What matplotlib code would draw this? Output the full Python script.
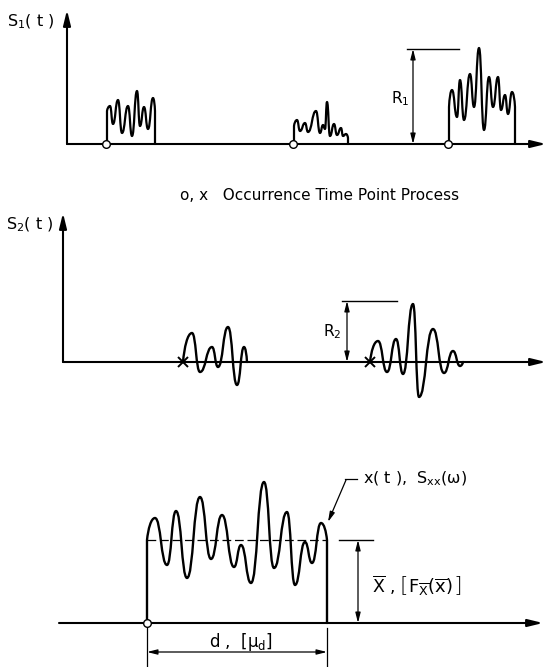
import matplotlib.pyplot as plt
from matplotlib.path import Path
from matplotlib.patches import PathPatch

plt.rcParams['font.family'] = ['DejaVu Sans']
plt.rcParams['mathtext.fontset'] = 'dejavusans'
plt.rcParams['mathtext.default'] = 'regular'

# ---- panel 1: S1(t), bursts given as (time, amplitude) of edges and extrema
s1_onsets = [106, 293, 448]
burst_a_t = [107, 110, 113, 118, 122, 128, 132, 137, 140, 144, 148, 153, 155]
burst_a_amp = [33, 38, 20, 44, 11, 38, 8, 53, 18, 37, 15, 46, 33]
burst_b_t = [294, 297, 300, 305, 308, 316, 320, 323, 325, 327, 330, 334, 337, 341, 343, 346, 348]
burst_b_amp = [18, 24, 13, 21, 12, 33, 11, 19, 15, 42, 8, 20, 9, 16, 8, 10, 6]
burst_c_t = [449, 452, 457, 460, 464, 470, 474, 479, 484, 489, 493, 498, 501, 505, 508, 512, 515]
burst_c_amp = [37, 54, 27, 64, 24, 70, 37, 96, 14, 67, 37, 67, 34, 49, 30, 52, 37]
r1_level = 95

# ---- panel 2: S2(t)
s2_onsets = [183, 370]
burst_d_t = [183, 192, 200, 212, 218, 228, 237, 244, 247]
burst_d_amp = [0, 29, -10, 15, -5, 35, -23, 15, 0]
burst_e_t = [370, 378, 387, 396, 403, 413, 419, 433, 444, 453, 460, 463]
burst_e_amp = [0, 21, -10, 23, -12, 58, -35, 33, -11, 11, -4, 0]
r2_level = 61

# ---- panel 3: single pulse x(t)
pulse_onset = 147
pulse_end = 327
pulse_t = [147, 155, 167, 176, 187, 200, 211, 222, 234, 241, 251, 264, 274, 287, 295, 305, 312, 321, 327]
pulse_amp = [83, 105, 58, 112, 45, 126, 64, 108, 56, 78, 40, 141, 55, 111, 38, 81, 60, 100, 83]
mean_level = 83


def wave_path(t, amp):
    verts = [(t[0], 0)]
    codes = [Path.MOVETO]
    if amp[0] != 0:
        verts.append((t[0], amp[0]))
        codes.append(Path.LINETO)
    n = len(t)
    for i in range(n - 1):
        x0, y0, x1, y1 = t[i], amp[i], t[i + 1], amp[i + 1]
        dx = x1 - x0
        c1 = (x0 + 0.5 * dx, y0)
        c2 = (x1 - 0.5 * dx, y1)
        if i == 0:
            c1 = (x0 + 0.15 * dx, y0 + 0.5 * (y1 - y0))
        if i == n - 2:
            c2 = (x1 - 0.15 * dx, y1 - 0.5 * (y1 - y0))
        verts += [c1, c2, (x1, y1)]
        codes += [Path.CURVE4] * 3
    if amp[-1] != 0:
        verts.append((t[-1], 0))
        codes.append(Path.LINETO)
    return Path(verts, codes)


def draw_wave(ax, t, amp, lw=1.7):
    ax.add_patch(PathPatch(wave_path(t, amp), fill=False, lw=lw, color='k',
                           capstyle='round', joinstyle='round', clip_on=False))


def arrow(ax, start, end, lw=1.5, style='-|>,head_length=0.9,head_width=0.22'):
    ax.annotate('', xy=end, xytext=start,
                arrowprops=dict(arrowstyle=style, lw=lw, color='k',
                                shrinkA=0, shrinkB=0), annotation_clip=False)


def dim_arrow(ax, start, end):
    arrow(ax, start, end, lw=0.9, style='<|-|>,head_length=0.6,head_width=0.15')


fig = plt.figure(figsize=(5.48, 6.67), dpi=100)

# panel 1
ax1 = fig.add_axes([0, 1 - 165 / 667, 1, 165 / 667])
ax1.set_xlim(0, 548)
ax1.set_ylim(-21, 144)
ax1.axis('off')
arrow(ax1, (67, 0), (67, 134))
arrow(ax1, (67, 0), (546, 0))
for t, a in [(burst_a_t, burst_a_amp), (burst_b_t, burst_b_amp), (burst_c_t, burst_c_amp)]:
    draw_wave(ax1, t, a, lw=1.6)
ax1.plot(s1_onsets, [0] * len(s1_onsets), 'o', ms=5.5, mfc='white', mec='k', mew=1.0,
         clip_on=False, zorder=5)
ax1.plot([407, 459], [r1_level, r1_level], color='k', lw=1.0)
dim_arrow(ax1, (413, 0), (413, r1_level))
ax1.text(400, 45, r'R$_1$', fontsize=11, ha='center', va='center')
ax1.text(31, 122, r'S$_1$( t )', fontsize=11.5, ha='center', va='center')

fig.text(180 / 548, 1 - 196 / 667, 'o, x   Occurrence Time Point Process',
         fontsize=11, ha='left', va='center')

# panel 2
ax2 = fig.add_axes([0, 1 - 420 / 667, 1, 255 / 667])
ax2.set_xlim(0, 548)
ax2.set_ylim(-58, 197)
ax2.axis('off')
arrow(ax2, (63, 0), (63, 149))
arrow(ax2, (63, 0), (546, 0))
draw_wave(ax2, burst_d_t, burst_d_amp)
draw_wave(ax2, burst_e_t, burst_e_amp)
ax2.plot(s2_onsets, [0] * len(s2_onsets), 'x', ms=7, mec='k', mew=1.4, clip_on=False, zorder=5)
ax2.plot([342, 397], [r2_level, r2_level], color='k', lw=1.0)
dim_arrow(ax2, (347, 0), (347, r2_level))
ax2.text(332, 30, r'R$_2$', fontsize=11, ha='center', va='center')
ax2.text(30, 137, r'S$_2$( t )', fontsize=11.5, ha='center', va='center')

# panel 3
ax3 = fig.add_axes([0, 0, 1, 247 / 667])
ax3.set_xlim(0, 548)
ax3.set_ylim(-44, 203)
ax3.axis('off')
arrow(ax3, (59, 0), (543, 0))
draw_wave(ax3, pulse_t, pulse_amp)
ax3.plot([pulse_onset, pulse_end], [mean_level, mean_level], color='k', lw=0.9,
         ls=(0, (7, 3)))
ax3.plot([pulse_onset], [0], 'o', ms=5.5, mfc='white', mec='k', mew=1.0, clip_on=False, zorder=5)
ax3.plot([339, 373], [mean_level, mean_level], color='k', lw=1.0)
dim_arrow(ax3, (358, 0), (358, mean_level))
ax3.text(372, 38, r'$\overline{X}$ ,', fontsize=12.5, ha='left', va='center')
ax3.text(400, 38, '[', fontsize=16, fontweight='light', ha='left', va='center')
ax3.text(408, 36, r'$F_{\overline{X}}(\overline{x})$', fontsize=13, ha='left', va='center')
ax3.text(453, 38, ']', fontsize=16, fontweight='light', ha='left', va='center')

# leader to the curve
ax3.plot([345, 357], [144, 144], color='k', lw=0.9)
arrow(ax3, (346, 143), (328, 101), lw=0.9, style='-|>,head_length=0.6,head_width=0.15')
ax3.text(363, 144, r'x( t ),  S$_{xx}$($\omega$)', fontsize=11.5, ha='left', va='center')

# duration d
for xv in [pulse_onset, pulse_end]:
    ax3.plot([xv, xv], [-5, -44], color='k', lw=0.9, clip_on=False)
dim_arrow(ax3, (pulse_onset, -29), (pulse_end, -29))
ax3.text(241, -19, r'd ,  [$\mu_d$]', fontsize=12, ha='center', va='center')

fig.savefig('out.png', dpi=100)
